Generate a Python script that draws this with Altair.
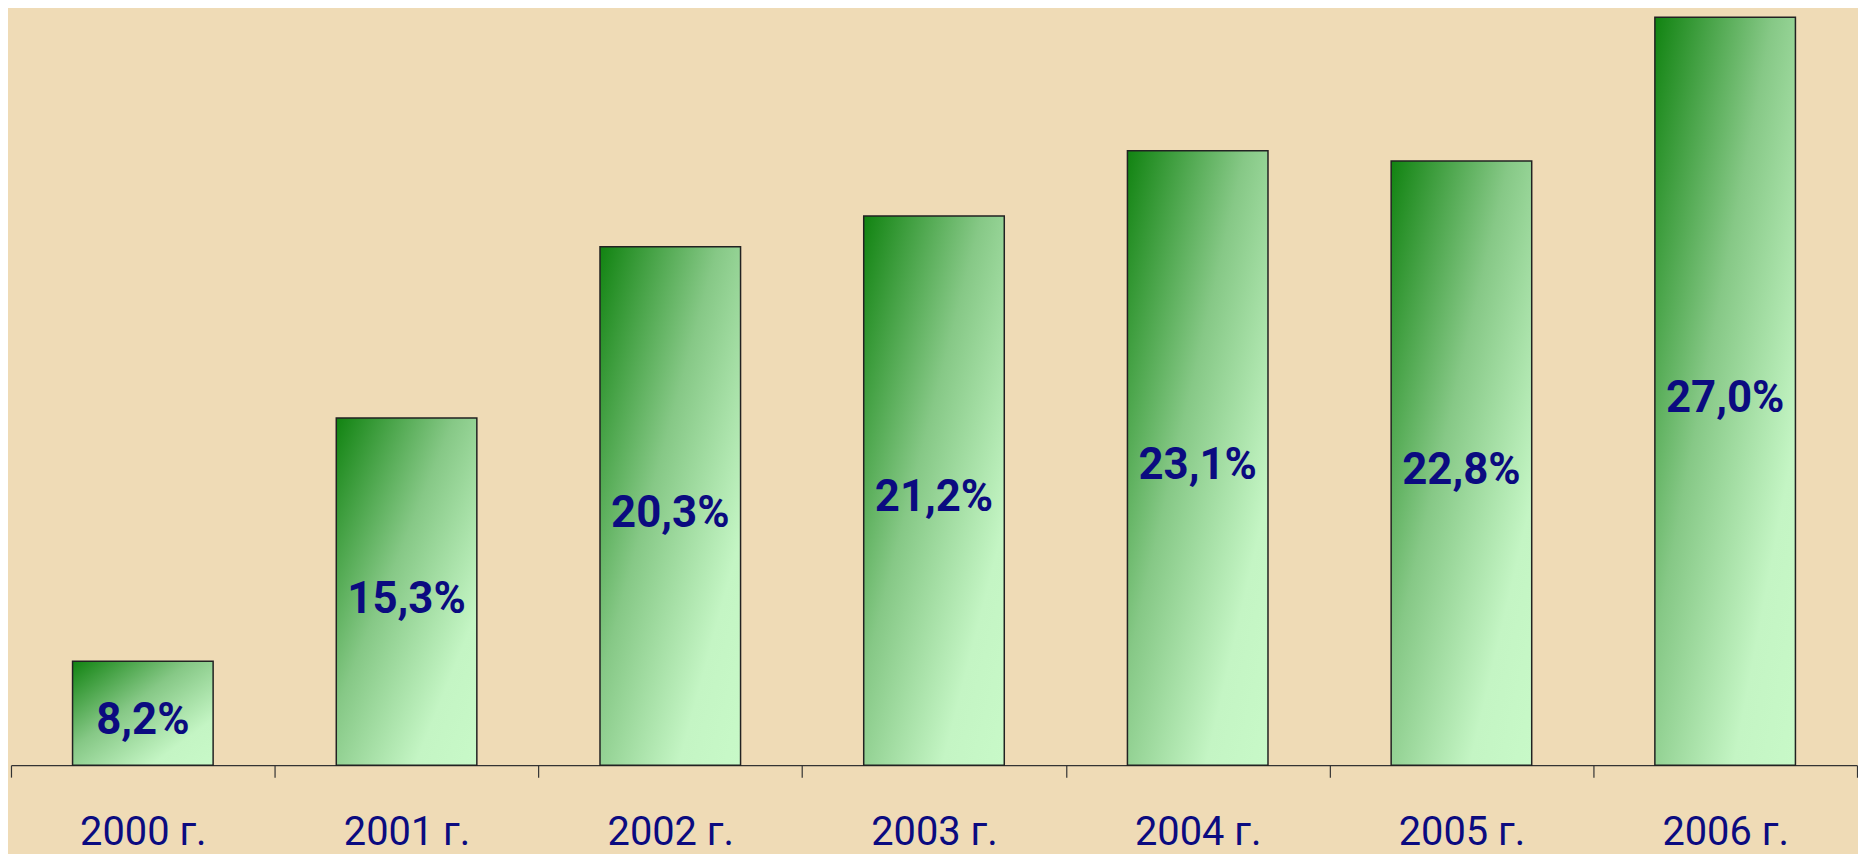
import altair as alt
import pandas as pd

years = ["2000 г.", "2001 г.", "2002 г.", "2003 г.", "2004 г.", "2005 г.", "2006 г."]
values = [8.2, 15.3, 20.3, 21.2, 23.1, 22.8, 27.0]
labels = ["8,2%", "15,3%", "20,3%", "21,2%", "23,1%", "22,8%", "27,0%"]

Y_MIN = 5.17
Y_MAX = 27.2

df = pd.DataFrame({"year": years, "value": values, "label": labels})

grad = alt.Gradient(
    gradient="linear",
    stops=[
        alt.GradientStop(color="#118311", offset=0),
        alt.GradientStop(color="#86c886", offset=0.42),
        alt.GradientStop(color="#c4f5c4", offset=0.78),
        alt.GradientStop(color="#c8f9c8", offset=1),
    ],
    x1=0, y1=0, x2=1, y2=1,
)

x_scale = alt.Scale(paddingInner=0, paddingOuter=0)
x_enc = alt.X(
    "year:N",
    sort=years,
    title=None,
    scale=x_scale,
    axis=alt.Axis(
        labelAngle=0,
        labelFont="Roboto",
        labelFontSize=40,
        labelColor="#0b0b80",
        labelPadding=36,
        tickSize=12,
        tickBand="extent",
        tickColor="#333333",
        domainColor="#333333",
        tickWidth=1.2,
        domainWidth=1.2,
        grid=False,
    ),
)
y_scale = alt.Scale(domain=[Y_MIN, Y_MAX], zero=False, nice=False)

bars = alt.Chart(df).mark_bar(
    color=grad, stroke="#222222", strokeWidth=1.5,
    width=alt.RelativeBandSize(0.533),
).encode(
    x=x_enc,
    y=alt.Y("value:Q", scale=y_scale, axis=None),
    y2=alt.datum(Y_MIN),
)

text = alt.Chart(df).transform_calculate(
    mid=f"(datum.value + {Y_MIN}) / 2"
).mark_text(
    font="Roboto",
    fontWeight="bold",
    fontSize=44,
    color="#0b0b80",
    dy=8,
).encode(
    x=alt.X("year:N", sort=years, scale=x_scale),
    y=alt.Y("mid:Q", scale=y_scale, axis=None),
    text="label:N",
)

chart = alt.layer(bars, text).properties(
    width=1856,
    height=759,
    background="#efdbb6",
    padding={"left": 2, "top": 0, "right": 0, "bottom": 0},
).configure_view(stroke=None)

chart.save("out.html", embed_options={"renderer": "svg", "actions": False})
